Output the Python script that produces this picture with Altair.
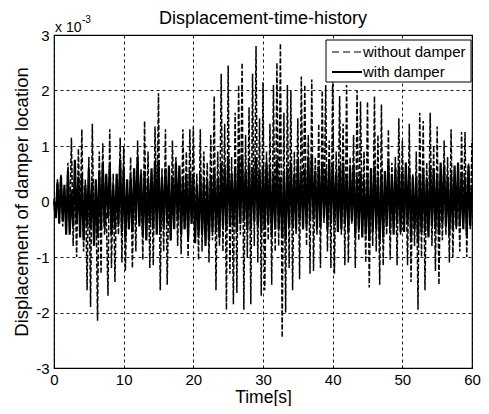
import altair as alt
import pandas as pd

# time grid (s), 0.25 s sampling
time_s = [i * 0.25 for i in range(241)]

# displacement values in units of 1e-3
without_damper = [
    0.05, -0.3, 0.4, -0.15,
    0.5, -0.45, 0.2, -0.55,
    0.7, -0.35, 1.15, -0.8,
    0.5, -1.0, 0.95, -0.4,
    1.3, -0.9, 0.4, -1.6,
    0.8, -1.9, 1.4, -0.7,
    0.3, -2.15, 0.9, -1.3,
    1.05, -0.6, -0.2, -1.7,
    1.3, -1.2, 0.5, -1.45,
    0.4, -0.6, 1.15, -1.1,
    1.0, -1.25, 0.3, -0.5,
    0.8, -1.2, 0.55, -0.9,
    1.1, -0.4, 0.6, -1.05,
    1.45, -0.7, 0.9, -1.2,
    0.5, -1.15, 1.35, -0.3,
    1.95, -1.6, 0.6, -0.9,
    1.3, -1.5, 0.4, -0.7,
    1.1, -0.3, 0.8, -0.8,
    0.6, -0.95, 1.3, -0.5,
    0.9, -1.0, 1.3, -0.4,
    1.35, -0.6, 0.5, -1.05,
    1.3, -0.9, 0.9, -0.3,
    0.7, -1.1, 1.2, -0.7,
    1.9, -1.6, 0.9, -0.8,
    2.3, -0.9, 1.4, -1.95,
    2.45, -1.3, 0.8, -1.85,
    1.6, -1.65, 2.1, -0.6,
    2.5, -1.95, 1.2, -1.0,
    1.7, -1.85, 2.3, -0.8,
    2.8, -1.1, 1.5, -1.7,
    2.15, -1.6, 0.9, -0.7,
    1.4, -1.5, 2.1, -0.9,
    2.5, -0.8, 2.85, -2.45,
    1.6, -2.0, 2.1, -1.2,
    2.0, -1.6, 0.9, -0.6,
    1.5, -1.4, 2.25, -0.5,
    2.1, -0.8, 1.2, -1.3,
    2.2, -1.25, 0.8, -0.6,
    1.4, -1.2, 2.0, -0.4,
    2.1, -0.9, 1.1, -1.2,
    2.25, -1.3, 0.9, -0.5,
    1.9, -0.6, 1.4, -1.15,
    2.1, -1.1, 0.8, -0.4,
    1.2, -1.2, 2.0, -0.7,
    1.8, -0.5, 0.9, -1.1,
    1.8, -1.55, 0.6, -0.8,
    1.9, -0.9, 1.2, -1.5,
    1.75, -1.15, 0.5, -0.6,
    1.3, -1.05, 0.7, -0.4,
    0.8, -1.15, 1.5, -0.6,
    1.1, -0.5, 0.6, -1.15,
    1.4, -1.45, 0.5, -0.8,
    0.9, -1.95, 1.6, -1.0,
    1.45, -1.6, 0.7, -0.6,
    1.6, -0.8, 1.0, -1.25,
    1.35, -1.5, 0.5, -0.7,
    1.1, -0.6, 0.8, -1.1,
    1.3, -1.0, 0.4, -0.5,
    0.6, -0.9, 1.25, -0.4,
    1.25, -1.0, 0.7, -0.5,
    1.1,
]

with_damper = [
    0.0, -0.3, 0.35, -0.4,
    0.45, -0.35, 0.3, -0.6,
    0.55, -0.6, 0.2, -0.45,
    0.75, -0.4, 0.45, -0.65,
    0.5, -0.7, 0.3, -0.45,
    0.6, -0.5, 0.35, -0.8,
    0.4, -0.65, 0.55, -0.5,
    0.7, -0.45, 0.5, -0.3,
    0.65, -0.6, 0.3, -0.5,
    0.5, -0.4, 0.75, -0.55,
    0.6, -0.65, 0.4, -0.5,
    0.45, -0.55, 0.6, -0.35,
    0.8, -0.45, 0.5, -0.6,
    0.55, -0.7, 0.4, -0.4,
    0.6, -0.5, 0.7, -0.6,
    0.75, -0.55, 0.45, -0.45,
    0.6, -0.4, 0.65, -0.7,
    0.45, -0.5, 0.7, -0.35,
    0.65, -0.6, 0.4, -0.5,
    0.5, -0.65, 0.55, -0.4,
    0.45, -0.75, 0.3, -0.6,
    0.5, -0.6, 0.35, -0.8,
    0.35, -0.7, 0.45, -0.55,
    0.6, -0.55, 0.4, -0.65,
    0.7, -0.45, 0.6, -0.5,
    0.8, -0.4, 0.5, -0.45,
    0.6, -0.55, 0.75, -0.4,
    0.85, -0.35, 0.55, -0.5,
    0.7, -0.5, 0.6, -0.35,
    0.8, -0.45, 0.55, -0.55,
    0.65, -0.5, 0.7, -0.4,
    0.6, -0.6, 0.5, -0.5,
    0.75, -0.5, 0.45, -0.65,
    0.55, -0.7, 0.6, -0.45,
    0.7, -0.45, 0.5, -0.5,
    0.75, -0.35, 0.55, -0.5,
    0.6, -0.45, 0.8, -0.35,
    0.8, -0.3, 0.55, -0.5,
    0.65, -0.45, 0.7, -0.3,
    0.6, -0.5, 0.75, -0.4,
    0.7, -0.35, 0.5, -0.55,
    0.65, -0.5, 0.7, -0.4,
    0.5, -0.55, 0.6, -0.35,
    0.65, -0.6, 0.45, -0.5,
    0.55, -0.65, 0.4, -0.6,
    0.45, -0.7, 0.6, -0.55,
    0.65, -0.5, 0.45, -0.7,
    0.5, -0.65, 0.55, -0.45,
    0.7, -0.5, 0.5, -0.6,
    0.6, -0.4, 0.65, -0.55,
    0.55, -0.55, 0.7, -0.4,
    0.6, -0.65, 0.45, -0.5,
    0.45, -0.75, 0.5, -0.55,
    0.6, -0.55, 0.4, -0.65,
    0.65, -0.45, 0.6, -0.5,
    0.5, -0.6, 0.7, -0.4,
    0.65, -0.45, 0.45, -0.6,
    0.5, -0.5, 0.65, -0.45,
    0.7, -0.45, 0.5, -0.5,
    0.45, -0.6, 0.65, -0.45,
    0.3,
]

series_names = ["without damper", "with damper"]
x_ticks = [0, 10, 20, 30, 40, 50, 60]
y_ticks = [-3, -2, -1, 0, 1, 2, 3]

n = min(len(time_s), len(without_damper), len(with_damper))
df = pd.DataFrame({
    "t": time_s[:n] + time_s[:n],
    "v": without_damper[:n] + with_damper[:n],
    "series": [series_names[0]] * n + [series_names[1]] * n,
})

FONT = "Liberation Sans"
W, H = 418, 333
DASH_WITHOUT = [5, 2]

x_enc = alt.X(
    "t:Q",
    scale=alt.Scale(domain=[0, 60], nice=False, zero=False),
    axis=alt.Axis(values=x_ticks, title="Time[s]", labelExpr="'' + datum.value",
                  titleX=W / 2, titleY=34, titleBaseline="alphabetic",
                  titleFontSize=17.5, labelPadding=4, labelFlush=False),
)
y_enc = alt.Y(
    "v:Q",
    scale=alt.Scale(domain=[-3, 3], nice=False),
    axis=alt.Axis(values=y_ticks, title="Displacement of damper location",
                  labelExpr="'' + datum.value",
                  titleX=-27, titleY=H / 2, titleBaseline="alphabetic",
                  titleFontSize=18.5, labelPadding=5, labelFlush=False),
)

line_without = alt.Chart(df).transform_filter(
    alt.datum.series == series_names[0]
).mark_line(color="#000000", strokeWidth=1.5, strokeDash=DASH_WITHOUT,
            strokeCap="butt", strokeJoin="miter").encode(x=x_enc, y=y_enc)
line_with = alt.Chart(df).transform_filter(
    alt.datum.series == series_names[1]
).mark_line(color="#000000", strokeWidth=2.2,
            strokeCap="butt", strokeJoin="miter").encode(x=x_enc, y=y_enc)

one = pd.DataFrame({"k": [0]})

# legend (drawn as a framed box inside the plot, MATLAB style)
leg_box = alt.Chart(one).mark_rect(fill="#ffffff", stroke="#000000", strokeWidth=1).encode(
    x=alt.value(272), x2=alt.value(417), y=alt.value(5), y2=alt.value(47)
)
leg_line1 = alt.Chart(one).mark_rule(color="#000000", strokeWidth=1.2, strokeDash=[7, 4]).encode(
    x=alt.value(278), x2=alt.value(308), y=alt.value(17)
)
leg_line2 = alt.Chart(one).mark_rule(color="#000000", strokeWidth=2.0).encode(
    x=alt.value(278), x2=alt.value(308), y=alt.value(37)
)
leg_txt1 = alt.Chart(pd.DataFrame({"txt": [series_names[0]]})).mark_text(
    align="left", baseline="middle", font=FONT, fontSize=15, color="#000000"
).encode(text="txt:N", x=alt.value(309), y=alt.value(17))
leg_txt2 = alt.Chart(pd.DataFrame({"txt": [series_names[1]]})).mark_text(
    align="left", baseline="middle", font=FONT, fontSize=15, color="#000000"
).encode(text="txt:N", x=alt.value(309), y=alt.value(37))

title_txt = alt.Chart(pd.DataFrame({"txt": ["Displacement-time-history"]})).mark_text(
    align="center", baseline="alphabetic", font=FONT, fontSize=18, color="#000000"
).encode(text="txt:N", x=alt.value(W / 2), y=alt.value(-11))
mult = alt.Chart(pd.DataFrame({"txt": ["x 10"]})).mark_text(
    align="left", baseline="alphabetic", font=FONT, fontSize=14, color="#000000"
).encode(text="txt:N", x=alt.value(1), y=alt.value(-3))
mult_exp = alt.Chart(pd.DataFrame({"txt": ["-3"]})).mark_text(
    align="left", baseline="alphabetic", font=FONT, fontSize=10, color="#000000"
).encode(text="txt:N", x=alt.value(28), y=alt.value(-12))

chart = alt.layer(
    line_without, line_with, leg_box, leg_line1, leg_line2, leg_txt1, leg_txt2,
    title_txt, mult, mult_exp
).properties(
    width=W,
    height=H,
    autosize=alt.AutoSizeParams(type="none"),
    padding={"left": 46, "top": 27, "right": 9, "bottom": 38},
).configure_view(
    stroke="#000000", strokeWidth=1.2
).configure_axis(
    grid=True, gridColor="#000000", gridDash=[3, 3], gridWidth=0.9, gridOpacity=1,
    ticks=False, domain=False,
    labelFont=FONT, labelFontSize=15, labelColor="#000000",
    titleFont=FONT, titleFontWeight="normal", titleColor="#000000",
)

chart.save("out.html", embed_options={"renderer": "svg", "actions": False})
